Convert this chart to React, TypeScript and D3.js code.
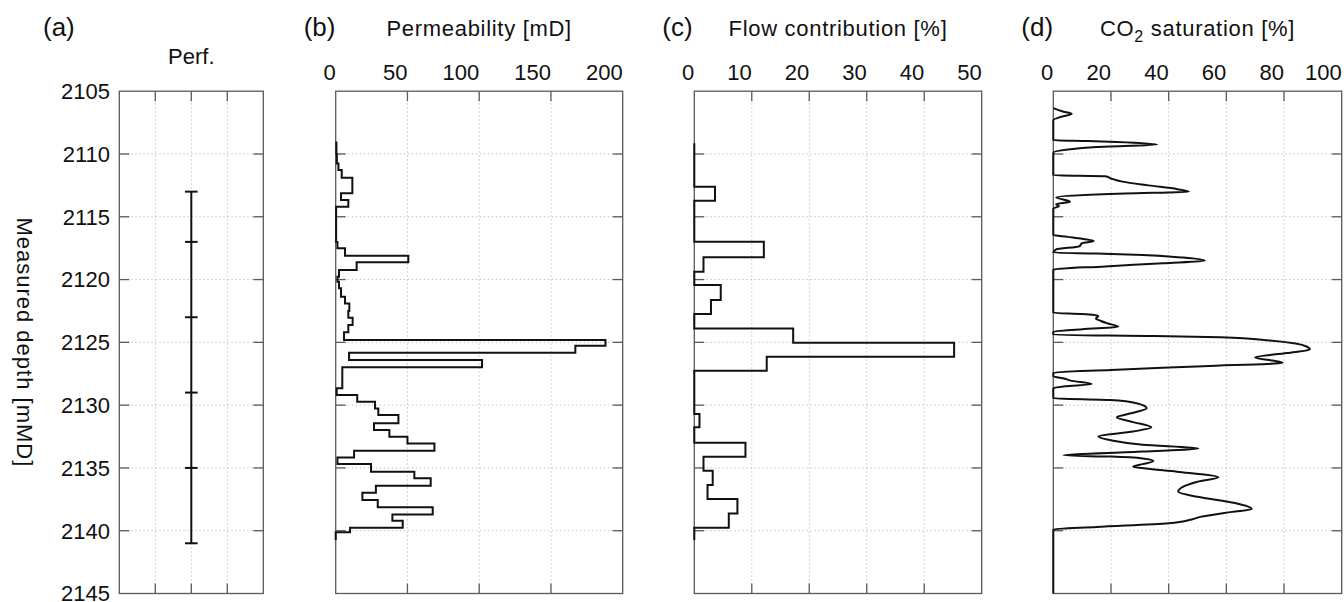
import React from 'react';
import * as d3 from 'd3';

// depth axis
const depthTicks = [2105, 2110, 2115, 2120, 2125, 2130, 2135, 2140, 2145];

// (a) perforation intervals
const perfDepths = [2113, 2117, 2123, 2129, 2135, 2141];

// (b) permeability [mD], step log: top of each interval + value
const permTop = [2109.0, 2110.0, 2110.75, 2111.27, 2111.9, 2113.13, 2113.66, 2114.2, 2117.0, 2117.5, 2118.1, 2118.63, 2119.24, 2119.77, 2120.17, 2120.7, 2121.36, 2121.9, 2122.5, 2123.04, 2123.62, 2124.2, 2124.82, 2125.27, 2125.82, 2126.41, 2126.99, 2128.66, 2129.2, 2129.73, 2130.26, 2130.79, 2131.45, 2131.98, 2132.51, 2133.05, 2133.63, 2134.16, 2134.69, 2135.3, 2135.83, 2136.42, 2136.97, 2137.56, 2138.14, 2138.7, 2139.2, 2139.76, 2140.13];
const permValue = [0.5, 0.8, 1.9, 4.2, 11.6, 3.7, 8.8, 0.3, 1.2, 6.5, 50.6, 14.6, 2.3, 1.2, 2.3, 3.7, 6.5, 9.5, 8.8, 11.8, 8.8, 5.8, 188, 167, 9.3, 102, 4.6, 0.7, 15, 27.4, 29.7, 43.7, 26.7, 37.4, 50, 68.8, 12.8, 1.2, 24.6, 54.8, 66.2, 28, 18.6, 29.3, 67.6, 39.5, 46.7, 10, 0];
const permBottom = 2140.74;

// (c) flow contribution [%]
const flowTop = [2109.15, 2112.6, 2113.72, 2116.99, 2118.23, 2119.38, 2120.44, 2121.63, 2122.75, 2123.89, 2125.03, 2126.14, 2127.26, 2130.71, 2131.77, 2133.0, 2134.11, 2135.22, 2136.36, 2137.48, 2138.62, 2139.76];
const flowValue = [0, 3.6, 0, 12.1, 1.6, 0, 4.6, 2.9, 0, 17.2, 45.2, 12.6, 0, 0.9, 0, 8.9, 1.6, 3.2, 2.3, 7.5, 6.0, 0];
const flowBottom = 2140.74;

// (d) CO2 saturation [%]
const co2Depth = [2106.35, 2106.6, 2106.8, 2107.05, 2107.3, 2108.9, 2108.97, 2109.05, 2109.25, 2109.45, 2109.65, 2109.9, 2111.7, 2111.78, 2111.95, 2112.2, 2112.5, 2112.8, 2113.0, 2113.15, 2113.45, 2113.8, 2114.0, 2114.15, 2114.35, 2116.45, 2116.6, 2116.75, 2116.93, 2117.1, 2117.35, 2117.6, 2117.85, 2117.93, 2118.05, 2118.25, 2118.5, 2118.7, 2118.95, 2119.2, 2122.65, 2122.75, 2122.9, 2123.1, 2123.3, 2123.5, 2123.75, 2123.95, 2124.15, 2124.4, 2124.5, 2124.6, 2124.85, 2125.1, 2125.35, 2125.56, 2125.85, 2126.2, 2126.45, 2126.62, 2126.9, 2127.2, 2127.42, 2127.7, 2127.9, 2128.05, 2128.32, 2128.5, 2128.65, 2129.45, 2129.6, 2129.85, 2130.25, 2130.65, 2130.97, 2131.35, 2131.77, 2132.1, 2132.5, 2132.8, 2133.15, 2133.44, 2133.7, 2134.0, 2134.1, 2134.25, 2134.45, 2134.7, 2134.9, 2135.05, 2135.3, 2135.75, 2136.1, 2136.9, 2137.3, 2137.8, 2138.27, 2138.5, 2138.9, 2139.1, 2139.4, 2139.7, 2139.9, 2145];
const co2Value = [0, 3, 6.4, 2.5, 0, 0, 12, 22, 36, 15, 5, 0, 0, 18, 20, 24, 33, 43, 47, 25, 1, 5.8, 1, 2, 0, 0, 5, 10, 14, 10, 9, 1, 0, 15, 31, 45, 52.5, 38, 18, 0, 0, 10, 15.6, 14.8, 16.5, 19, 22.5, 10, 0, 0, 35, 58, 75, 84, 88, 89, 81, 70, 76, 79.5, 52, 20, 0, 0, 4, 6, 13.3, 4, 0, 0, 19.6, 28.9, 32.4, 27, 22, 27.7, 34, 27.7, 15.6, 20, 31, 50.3, 31, 3.5, 20, 31, 34.7, 31, 27.7, 32, 42.8, 57.2, 50, 43.3, 50, 63, 68.8, 62, 51, 48, 40, 15, 0, 0];

// panels
const panelTitles = ['Perf.', 'Permeability [mD]', 'Flow contribution [%]', 'CO2 saturation [%]'];
const panelTags = ['(a)', '(b)', '(c)', '(d)'];
const panelMax = [1, 200, 50, 100];
const panelTicks = [[0.25, 0.5, 0.75], [50, 100, 150], [10, 20, 30, 40], [20, 40, 60, 80]];
const panelTickLabels = [[], ['0', '50', '100', '150', '200'], ['0', '10', '20', '30', '40', '50'], ['0', '20', '40', '60', '80', '100']];

const W = 1344;
const H = 602;
const top = 91.2;
const bottom = 593.5;
const lefts = [119.3, 335.7, 694.3, 1053.3];
const rights = [263.3, 622.7, 981.7, 1341.7];

const FONT = '"Liberation Sans", Arial, Helvetica, sans-serif';
const AXIS = '#5a5a5a';
const GRID = '#c4c4c4';
const INK = '#111';

function stepPoints(tops: number[], vals: number[], end: number) {
    const pts: [number, number][] = [];
    tops.forEach((t, i) => {
        const b = i < tops.length - 1 ? tops[i + 1] : end;
        pts.push([vals[i], t]);
        pts.push([vals[i], b]);
    });
    return pts;
}

export default function App() {
    const y = d3.scaleLinear().domain([2105, 2145]).range([top, bottom]);
    const xs = lefts.map((l, i) => d3.scaleLinear().domain([0, panelMax[i]]).range([l, rights[i]]));

    const stepLine = (x: d3.ScaleLinear<number, number>) =>
        d3.line<[number, number]>().x(d => x(d[0])).y(d => y(d[1]));

    const permPath = stepLine(xs[1])(stepPoints(permTop, permValue, permBottom)) || '';
    const flowPath = stepLine(xs[2])(stepPoints(flowTop, flowValue, flowBottom)) || '';
    const co2Path = d3.line<number>()
        .x((d, i) => xs[3](co2Value[i]))
        .y(d => y(d))
        .curve(d3.curveMonotoneY)(co2Depth) || '';

    const xa = xs[0];
    const perfX = xa(0.5);

    return (
        <svg width={W} height={H} style={{ position: 'absolute', left: 0, top: 0, background: '#fff' }}
            fontFamily={FONT}>
            {xs.map((x, p) => {
                const l = lefts[p];
                const r = rights[p];
                const cx = (l + r) / 2;
                return (
                    <g key={p}>
                        {/* grid */}
                        {panelTicks[p].map(t => (
                            <line key={'gv' + t} x1={x(t)} x2={x(t)} y1={top} y2={bottom}
                                stroke={GRID} strokeWidth={1} strokeDasharray="1.5 2.5" />
                        ))}
                        {depthTicks.slice(1, -1).map(d => (
                            <line key={'gh' + d} x1={l} x2={r} y1={y(d)} y2={y(d)}
                                stroke={GRID} strokeWidth={1} strokeDasharray="1.5 2.5" />
                        ))}
                        {/* ticks */}
                        {panelTicks[p].map(t => (
                            <g key={'t' + t} stroke={AXIS} strokeWidth={1.3}>
                                <line x1={x(t)} x2={x(t)} y1={top} y2={top + 10} />
                                <line x1={x(t)} x2={x(t)} y1={bottom} y2={bottom - 10} />
                            </g>
                        ))}
                        {depthTicks.slice(1, -1).map(d => (
                            <g key={'yt' + d} stroke={AXIS} strokeWidth={1.3}>
                                <line x1={l} x2={l + 10} y1={y(d)} y2={y(d)} />
                                <line x1={r} x2={r - 10} y1={y(d)} y2={y(d)} />
                            </g>
                        ))}
                        <rect x={l} y={top} width={r - l} height={bottom - top} fill="none"
                            stroke={AXIS} strokeWidth={1.3} />
                        {/* top tick labels */}
                        {panelTickLabels[p].map(s => (
                            <text key={'l' + s} x={x(+s)} y={80} textAnchor="end" fontSize={22} fill={INK}>{s}</text>
                        ))}
                        {/* titles */}
                        {p === 3 ? (
                            <text x={cx} y={36} textAnchor="middle" fontSize={22} fill={INK} letterSpacing={0.7}>
                                CO<tspan fontSize={16} dy={6}>2</tspan><tspan dy={-6}> saturation [%]</tspan>
                            </text>
                        ) : (
                            <text x={cx} y={p === 0 ? 64 : 36} textAnchor="middle" fontSize={22} fill={INK}
                                letterSpacing={p === 0 ? 0 : 0.7}>{panelTitles[p]}</text>
                        )}
                        <text x={p === 0 ? 43 : l - 32} y={36} fontSize={26} fill={INK}>{panelTags[p]}</text>
                    </g>
                );
            })}

            {/* depth labels */}
            {depthTicks.map(d => (
                <text key={d} x={110} y={y(d)} dy="0.36em" textAnchor="end" fontSize={22} fill={INK}>{d}</text>
            ))}
            <text transform={`translate(17,${(top + bottom) / 2}) rotate(90)`} textAnchor="middle"
                fontSize={22} fill={INK} letterSpacing={1}>Measured depth [mMD]</text>

            {/* (a) perforations */}
            <line x1={perfX} x2={perfX} y1={y(perfDepths[0])} y2={y(perfDepths[perfDepths.length - 1])}
                stroke={INK} strokeWidth={2} />
            {perfDepths.map(d => (
                <line key={d} x1={perfX - 6.3} x2={perfX + 6.3} y1={y(d)} y2={y(d)} stroke={INK} strokeWidth={2} />
            ))}

            {/* (b), (c), (d) */}
            <path d={permPath} fill="none" stroke={INK} strokeWidth={2} />
            <path d={flowPath} fill="none" stroke={INK} strokeWidth={2} />
            <path d={co2Path} fill="none" stroke={INK} strokeWidth={2} strokeLinejoin="round" />
        </svg>
    );
}
